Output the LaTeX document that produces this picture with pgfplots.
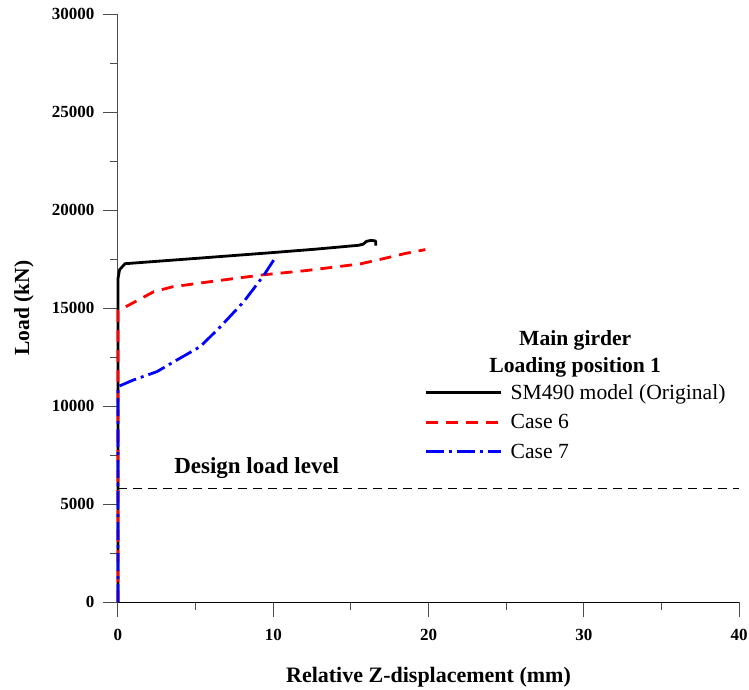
\documentclass[border=0pt]{standalone}
\usepackage{fontspec}
\setmainfont{Liberation Serif}
\usepackage{pgfplots}
\pgfplotsset{compat=1.18}
\begin{document}
\begin{tikzpicture}
\useasboundingbox (-118pt,-87pt) rectangle (631pt,602pt);
\begin{axis}[
  at={(0pt,0pt)}, anchor=south west,
  width=621pt, height=588pt, scale only axis,
  xmin=0, xmax=40, ymin=0, ymax=30000,
  axis lines=left,
  axis line style={-},
  x axis line style={black, line width=1pt},
  y axis line style={black!70, line width=1pt},
  xtick={0,10,20,30,40},
  ytick={0,5000,10000,15000,20000,25000,30000},
  minor tick num=1,
  tick align=outside,
  major tick length=15pt, minor tick length=8pt,
  tick style={black!70, line width=1pt},
  scaled y ticks=false,
  /pgf/number format/1000 sep={},
  /pgf/number format/assume math mode=true,
  ticklabel style={font=\fontsize{17}{20}\selectfont\bfseries},
  xticklabel style={anchor=center, yshift=-18pt},
  yticklabel style={anchor=east, xshift=-5pt},
  xlabel={Relative Z-displacement (mm)},
  ylabel={Load (kN)},
  xlabel style={font=\fontsize{22}{24}\selectfont\bfseries, at={(axis description cs:0.5,-0.1275)}, anchor=center},
  ylabel style={font=\fontsize{21.5}{24}\selectfont\bfseries, at={(axis description cs:-0.1515,0.5)}, anchor=center},
  clip=false,
  legend cell align=left,
  legend style={draw=none, fill=none, at={(axis cs:19.75,11200)}, anchor=north west,
    inner sep=0pt, row sep=9.5pt,
    font=\fontsize{21.6}{23}\selectfont},
  legend image code/.code={\draw[#1, line width=3pt] (0pt,0pt) -- (75pt,0pt); \path (81pt,0pt);},
]
\addplot[black, line width=2.8pt, line join=round] coordinates {
(0,0) (0,16500) (0.1,16950) (0.45,17260) (5,17530) (10,17830) (12.7,18000)
(15.5,18200) (15.8,18260) (16.0,18400) (16.3,18450) (16.6,18420) (16.6,18180)
};
\addlegendentry{SM490 model (Original)}
\addplot[red, line width=2.8pt, dash pattern=on 12pt off 8pt] coordinates {
(0,0) (0,14850) (1.1,15320) (2.3,15830) (3.5,16080) (6,16350) (9.2,16680)
(12,16900) (15.6,17250) (17,17500) (18.5,17780) (19.8,17980)
};
\addlegendentry{Case 6}
\addplot[blue, line width=2.8pt, dash pattern=on 18pt off 5pt on 3pt off 5pt] coordinates {
(0,0) (0,10990) (1,11330) (2.5,11750) (3.8,12350) (5.3,13030) (6.6,14050)
(8.1,15320) (9.4,16680) (10.1,17530)
};
\addlegendentry{Case 7}
\addplot[black, line width=0.9pt, dash pattern=on 9pt off 6pt, forget plot] coordinates {(0,5800) (40,5800)};
\node[font=\fontsize{23}{25}\selectfont\bfseries, anchor=west] at (axis cs:3.4,6840) {Design load level};
\node[font=\fontsize{21.6}{23}\selectfont\bfseries] at (axis cs:29.45,13370) {Main girder};
\node[font=\fontsize{21.6}{23}\selectfont\bfseries] at (axis cs:29.45,11990) {Loading position 1};
\end{axis}
\end{tikzpicture}
\end{document}
